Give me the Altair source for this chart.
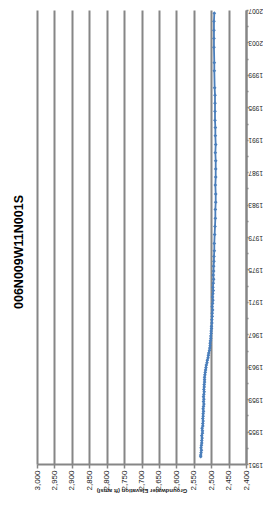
import altair as alt
import pandas as pd

title_text = "006N009W11N001S"
x_title = "Groundwater Elevation (ft amsl)"

years = [
    1951.9, 1952.1, 1952.4, 1952.7, 1953.0, 1953.3, 1953.6, 1953.9, 1954.2, 1954.5,
    1954.8, 1955.1, 1955.4, 1955.7, 1956.0, 1956.3, 1956.6, 1956.9, 1957.2, 1957.5,
    1957.8, 1958.1, 1958.4, 1958.7, 1959.0, 1959.3, 1959.6, 1959.9, 1960.2, 1960.5,
    1960.8, 1961.1, 1961.4, 1961.7, 1962.0, 1962.3, 1962.6, 1962.9, 1963.2, 1963.5,
    1963.8, 1964.1, 1964.4, 1964.7, 1965.0, 1965.3, 1965.6, 1965.9, 1966.2, 1966.5,
    1966.8, 1967.1, 1967.4, 1967.7, 1968.0, 1968.4, 1968.8, 1969.2, 1969.6, 1970.0,
    1970.4, 1970.8, 1971.2, 1971.6, 1972.0, 1972.4, 1972.8, 1973.3, 1973.8, 1974.3,
    1974.8, 1975.4, 1976.0, 1976.6, 1977.3, 1978.2, 1979.3, 1980.3, 1981.3, 1982.4,
    1983.3, 1984.3, 1985.4, 1986.4, 1987.4, 1988.4, 1989.4, 1990.4, 1991.5, 1992.5,
    1993.4, 1994.5, 1995.5, 1996.5, 1997.4, 1999.5, 2000.5, 2002.4, 2003.5, 2004.5,
    2005.6, 2006.6,
]
elevations = [
    2530, 2530, 2529, 2528, 2529, 2528, 2527, 2527, 2526, 2527,
    2525, 2525, 2526, 2524, 2524, 2523, 2524, 2523, 2523, 2522,
    2523, 2522, 2521, 2522, 2521, 2522, 2521, 2520, 2521, 2520,
    2520, 2519, 2519, 2519, 2518, 2517, 2516, 2515, 2514, 2512,
    2511, 2509, 2508, 2507, 2505, 2504, 2503, 2503, 2502, 2501,
    2501, 2500, 2500, 2499, 2499, 2498, 2498, 2497, 2497, 2496,
    2497, 2496, 2495, 2496, 2495, 2494, 2495, 2494, 2493, 2494,
    2493, 2493, 2492, 2492, 2491, 2491, 2490, 2489, 2488, 2488,
    2487, 2487, 2488, 2487, 2487, 2487, 2488, 2487, 2488, 2488,
    2489, 2489, 2489, 2489, 2490, 2491, 2491, 2492, 2492, 2492,
    2492, 2491,
]

year_ticks = list(range(1951, 2008, 2))
elev_ticks = list(range(2400, 3001, 50))

df = pd.DataFrame({"year": years, "elev": elevations})

grey = "#868686"
blue = "#4A7EBB"

chart = (
    alt.Chart(df)
    .mark_line(
        color=blue,
        strokeWidth=1.8,
        point=alt.OverlayMarkDef(shape="diamond", size=14, filled=True, color=blue),
    )
    .encode(
        x=alt.X(
            "elev:Q",
            scale=alt.Scale(domain=[2400, 3000], reverse=True, nice=False, zero=False),
            axis=alt.Axis(
                values=elev_ticks,
                format=",.0f",
                labelAngle=270,
                labelFontSize=8,
                labelColor="#222222",
                labelFont="Liberation Sans",
                labelPadding=2,
                tickSize=4,
                tickColor=grey,
                tickWidth=1.5,
                domainColor=grey,
                domainWidth=2,
                grid=True,
                gridColor=grey,
                gridWidth=2,
                title=x_title,
                titleAngle=180,
                titleFontSize=6,
                titleFont="Liberation Sans",
                titleFontWeight="bold",
                titleColor="#222222",
                titlePadding=3,
            ),
        ),
        y=alt.Y(
            "year:Q",
            scale=alt.Scale(domain=[1951, 2007], nice=False, zero=False),
            axis=alt.Axis(
                orient="right",
                values=year_ticks,
                format="d",
                labelExpr="(datum.value - 1951) % 4 == 0 ? datum.label : ''",
                labelAngle=180,
                labelAlign="right",
                labelBaseline="middle",
                labelFontSize=6.5,
                labelFont="Liberation Sans",
                labelColor="#222222",
                labelPadding=0,
                tickSize=2,
                tickColor=grey,
                tickWidth=1.5,
                domainColor=grey,
                domainWidth=2,
                grid=False,
                title=None,
            ),
        ),
        order=alt.Order("year:Q"),
    )
    .properties(
        width=209,
        height=454,
        title=alt.TitleParams(
            title_text,
            orient="left",
            font="Liberation Sans",
            fontSize=12.5,
            fontWeight="bold",
            color="#000000",
            offset=8,
            dx=-15,
        ),
        autosize=alt.AutoSizeParams(type="none"),
        padding={"left": 29, "top": 2, "right": 17, "bottom": 40},
        background="white",
    )
    .configure_view(stroke=None)
)

chart.save("out.html", embed_options={"renderer": "svg", "actions": False})
